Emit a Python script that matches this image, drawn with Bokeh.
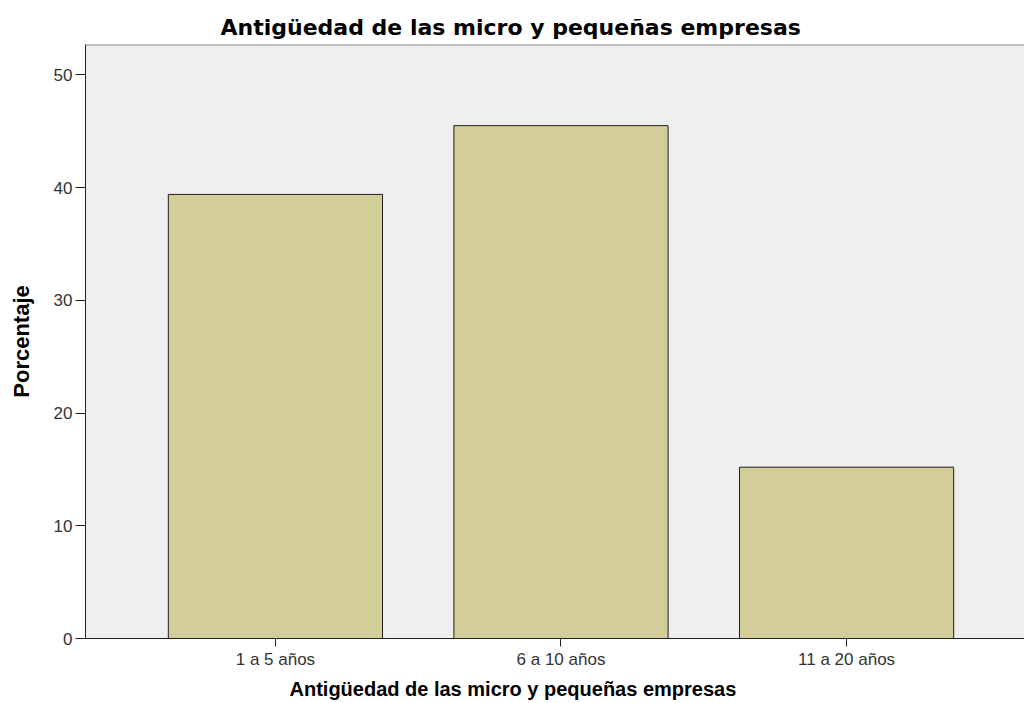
from bokeh.plotting import figure
from bokeh.models import Range1d, FixedTicker, Title, Span, ColumnDataSource
from bokeh.embed import file_html
from bokeh.resources import INLINE

# ---- data ----
categories = ["1 a 5 años", "6 a 10 años", "11 a 20 años"]
porcentaje = [39.4, 45.5, 15.2]
y_ticks = [0, 10, 20, 30, 40, 50]
title_text = "Antigüedad de las micro y pequeñas empresas"
x_label = "Antigüedad de las micro y pequeñas empresas"
y_label = "Porcentaje"

xs = list(range(len(categories)))
source = ColumnDataSource(data=dict(x=xs, cat=categories, pct=porcentaje))

title = Title(text=title_text, align="left", offset=135,
              text_font="DejaVu Sans", text_font_size="22px",
              text_font_style="bold", text_color="#000000", standoff=9)

p = figure(width=1024, height=703,
           x_range=Range1d(-0.665, len(categories) - 1 + 0.623),
           y_range=Range1d(0, 52.7),
           output_backend="svg", toolbar_location=None, title=title,
           min_border_left=85, min_border_right=0,
           min_border_top=44, min_border_bottom=65,
           background_fill_color="#efefef", border_fill_color="white",
           outline_line_color=None)

p.vbar(x="x", top="pct", width=0.75, source=source,
       fill_color="#d3ce97", line_color="#1e1e1e", line_width=1)

# top border of the plot area
p.add_layout(Span(location=p.y_range.end, dimension="width",
                  line_color="#8c8c8c", line_width=2))

# x axis label as a below-title so it can be offset
p.add_layout(Title(text=x_label, align="left", offset=204,
                   text_font="Liberation Sans", text_font_size="20px",
                   text_font_style="bold", text_color="#000000", standoff=8),
             "below")

p.xgrid.grid_line_color = None
p.ygrid.grid_line_color = None

xa = p.xaxis[0]
xa.ticker = FixedTicker(ticks=xs)
xa.major_label_overrides = {i: c for i, c in zip(xs, categories)}
xa.minor_tick_line_color = None
xa.major_tick_in = 0
xa.major_tick_out = 8
xa.major_tick_line_color = "#222222"
xa.axis_line_color = "#222222"
xa.major_label_standoff = 3
xa.major_label_text_font = "Liberation Sans"
xa.major_label_text_font_size = "17px"
xa.major_label_text_color = "#333333"

ya = p.yaxis[0]
ya.ticker = FixedTicker(ticks=y_ticks)
ya.minor_tick_line_color = None
ya.major_tick_in = 0
ya.major_tick_out = 10
ya.major_tick_line_color = "#222222"
ya.axis_line_color = "#222222"
ya.major_label_standoff = 3
ya.major_label_text_font = "Liberation Sans"
ya.major_label_text_font_size = "17px"
ya.major_label_text_color = "#333333"
ya.axis_label = y_label
ya.axis_label_text_font = "Liberation Sans"
ya.axis_label_text_font_size = "22px"
ya.axis_label_text_font_style = "bold"
ya.axis_label_text_color = "#000000"
ya.axis_label_standoff = 17

open("out.html", "w").write(file_html(p, INLINE))
